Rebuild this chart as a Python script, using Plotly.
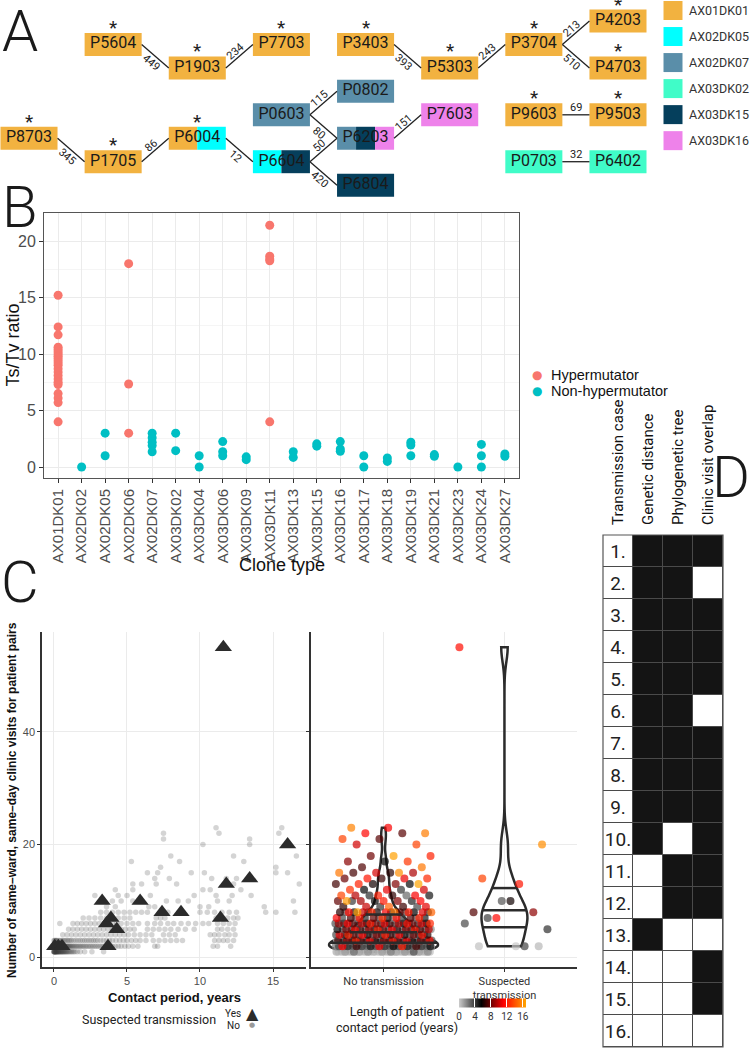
import numpy as np
import plotly.graph_objects as go

W, H = 751, 1050

# ---------------- A: transmission network ----------------
clone_names = ["AX01DK01", "AX02DK05", "AX02DK07", "AX03DK02", "AX03DK15", "AX03DK16"]
clone_colors = ["#F2B240", "#00FFFF", "#5A8EA9", "#40FCC8", "#053F5C", "#EE82EA"]

node_names = ["P5604", "P1903", "P7703", "P3403", "P5303", "P3704", "P4203", "P4703",
              "P8703", "P1705", "P6004", "P0603", "P6604", "P0802", "P6203", "P6804",
              "P7603", "P9603", "P9503", "P0703", "P6402"]
node_col = [1, 2, 3, 4, 5, 6, 7, 7, 0, 1, 2, 3, 3, 4, 4, 4, 5, 6, 7, 6, 7]
node_row = [1, 2, 1, 1, 2, 1, 0, 2, 5, 6, 5, 4, 6, 3, 5, 7, 4, 4, 4, 6, 6]
node_clones = [["AX01DK01"], ["AX01DK01"], ["AX01DK01"], ["AX01DK01"], ["AX01DK01"],
               ["AX01DK01"], ["AX01DK01"], ["AX01DK01"], ["AX01DK01"], ["AX01DK01"],
               ["AX01DK01", "AX02DK05"], ["AX02DK07"], ["AX02DK05", "AX03DK15"],
               ["AX02DK07"], ["AX02DK07", "AX03DK15", "AX03DK16"], ["AX03DK15"],
               ["AX03DK16"], ["AX01DK01"], ["AX01DK01"], ["AX03DK02"], ["AX03DK02"]]
node_star = [1, 1, 1, 1, 1, 1, 1, 1, 1, 1, 1, 0, 0, 0, 0, 0, 0, 1, 1, 0, 0]

edge_src = ["P5604", "P1903", "P3403", "P5303", "P3704", "P3704", "P8703", "P1705",
            "P6004", "P0603", "P0603", "P6604", "P6604", "P6203", "P9603", "P0703"]
edge_dst = ["P1903", "P7703", "P5303", "P3704", "P4203", "P4703", "P1705", "P6004",
            "P6604", "P0802", "P6203", "P6203", "P6804", "P7603", "P9503", "P6402"]
edge_snp = [449, 234, 393, 243, 213, 510, 345, 86, 12, 115, 80, 50, 420, 151, 69, 32]

# ---------------- B: Ts/Tv ratio per clone type ----------------
clone_types = ["AX01DK01", "AX02DK02", "AX02DK05", "AX02DK06", "AX02DK07", "AX03DK02",
               "AX03DK04", "AX03DK06", "AX03DK09", "AX03DK11", "AX03DK13", "AX03DK15",
               "AX03DK16", "AX03DK17", "AX03DK18", "AX03DK19", "AX03DK21", "AX03DK23",
               "AX03DK24", "AX03DK27"]
hyper_ratio = [
    [15.2, 12.4, 11.7, 10.6, 10.4, 10.2, 10.0, 9.8, 9.6, 9.4, 9.2, 9.0, 8.7, 8.4, 8.1,
     7.8, 7.5, 7.3, 6.5, 6.1, 5.7, 4.0],
    [], [], [18.0, 7.35, 3.0], [], [], [], [], [], [21.4, 18.65, 18.4, 18.25, 4.0],
    [], [], [], [], [], [], [], [], [], []]
nonhyper_ratio = [
    [], [0.0], [3.0, 1.0], [], [3.0, 2.6, 2.2, 1.9, 1.35], [3.0, 1.45], [1.0, 0.0],
    [2.25, 1.35, 1.0], [0.9, 0.65], [], [1.35, 0.85], [2.05, 1.85], [2.25, 1.6, 1.4],
    [1.0, 0.0], [0.8, 0.5], [2.2, 1.95, 1.0], [1.1, 0.95], [0.0], [2.0, 1.0, 0.0],
    [1.15, 0.95]]
group_names = ["Hypermutator", "Non-hypermutator"]
group_colors = ["#F8766D", "#00BFC4"]

# ---------------- C: contact period vs same-day visits ----------------
nt_visit_levels = [1, 2, 3, 4, 5, 6, 7, 8, 9, 10, 11, 12, 13, 14, 15, 16, 17, 18, 20, 21, 22, 23]
nt_periods = [
    [0.00, 0.00, 0.01, 0.02, 0.03, 0.05, 0.06, 0.08, 0.10, 0.12, 0.14, 0.16, 0.18, 0.20,
     0.22, 0.25, 0.28, 0.30, 0.33, 0.36, 0.40, 0.43, 0.47, 0.50, 0.54, 0.58, 0.62, 0.66,
     0.70, 0.75, 0.80, 0.85, 0.90, 0.96, 1.02, 1.10, 1.18, 1.26, 1.35, 1.45, 1.60, 1.80,
     2.10, 2.60, 3.40],
    [0.00, 0.01, 0.02, 0.04, 0.06, 0.08, 0.10, 0.12, 0.15, 0.18, 0.20, 0.23, 0.26, 0.30,
     0.33, 0.36, 0.40, 0.44, 0.48, 0.52, 0.56, 0.60, 0.65, 0.70, 0.75, 0.80, 0.85, 0.90,
     0.95, 1.00, 1.06, 1.12, 1.18, 1.25, 1.32, 1.40, 1.48, 1.56, 1.65, 1.74, 1.83, 1.92,
     2.02, 2.12, 2.22, 2.33, 2.44, 2.55, 2.66, 2.78, 2.90, 3.02, 3.15, 3.28, 3.41, 3.55,
     3.70, 3.85, 4.00, 4.20, 4.40, 4.60, 4.85, 5.10, 5.40, 5.75, 6.90, 7.10, 10.90,
     11.20, 12.10],
    [0.00, 0.05, 0.10, 0.15, 0.20, 0.30, 0.40, 0.50, 0.60, 0.70, 0.80, 0.90, 1.00, 1.10,
     1.20, 1.35, 1.50, 1.65, 1.80, 1.95, 2.10, 2.25, 2.40, 2.55, 2.70, 2.85, 3.00, 3.20,
     3.40, 3.60, 3.80, 4.00, 4.25, 4.50, 4.75, 5.00, 5.30, 5.60, 5.90, 6.30, 6.80, 7.20,
     7.60, 8.00, 8.40, 8.80, 11.00, 11.30, 11.60, 11.90, 12.30],
    [0.6, 0.9, 1.2, 1.5, 1.8, 2.1, 2.4, 2.7, 3.0, 3.3, 3.6, 3.9, 4.2, 4.5, 4.8, 5.1, 5.5,
     5.9, 6.3, 6.7, 7.5, 7.9, 8.3, 10.7, 11.0, 11.3, 11.7, 12.0, 12.4],
    [1.0, 1.3, 1.6, 1.9, 2.2, 2.5, 2.8, 3.1, 3.4, 3.7, 4.0, 4.3, 4.6, 4.9, 5.2, 5.5, 6.4,
     6.8, 7.2, 7.6, 8.0, 8.5, 9.0, 9.6, 11.2, 11.5, 11.9, 12.3],
    [0.4, 1.3, 1.6, 1.9, 2.2, 2.5, 2.8, 3.1, 3.4, 3.7, 4.0, 4.3, 4.6, 5.0, 5.4, 5.8, 6.4,
     6.9, 7.3, 7.8, 8.2, 8.7, 9.2, 9.7, 10.2, 10.6, 11.2, 11.6, 12.0, 12.4],
    [2.0, 2.4, 2.8, 3.2, 3.6, 4.0, 4.4, 4.8, 5.2, 7.0, 7.3, 7.6, 11.1, 11.5, 11.9, 12.3, 12.6],
    [3.2, 3.6, 4.0, 4.4, 4.8, 5.2, 5.6, 6.0, 6.4, 7.8, 10.0, 10.5, 11.0, 11.5, 12.0, 12.5,
     14.5, 15.2, 16.5],
    [3.6, 4.2, 6.5, 6.9, 10.0, 10.6, 14.4],
    [4.0, 4.6, 5.4, 7.7, 8.5, 9.2, 11.2, 12.0, 16.4],
    [2.8, 4.4, 5.0, 6.6, 9.6, 11.1, 12.2, 13.5],
    [4.2, 5.4, 10.2, 10.7, 12.8],
    [5.4, 6.0, 7.0, 8.4, 12.3, 16.8],
    [6.9, 7.9, 10.8, 11.8, 12.5],
    [6.4, 7.1, 9.4, 10.3, 15.2, 16.0],
    [7.3, 15.2],
    [5.3, 8.6, 13.0],
    [8.0, 12.3, 16.6],
    [10.2, 13.4],
    [7.5, 13.4],
    [7.5, 11.3, 15.4],
    [11.1, 15.6]]

tx_period = [0.05, 0.3, 0.55, 3.3, 3.6, 3.7, 3.9, 4.3, 5.9, 7.4, 8.7, 11.4, 11.6, 11.8, 13.4, 16.0]
tx_visits = [2, 2, 2, 10, 6, 2, 7, 5, 10, 8, 8, 7, 55, 13, 14, 20]

# ---------------- D: evidence per transmission case ----------------
d_headers = ["Transmission case", "Genetic distance", "Phylogenetic tree", "Clinic visit overlap"]
d_cases = list(range(1, 17))
d_genetic = [1, 1, 1, 1, 1, 1, 1, 1, 1, 1, 0, 0, 1, 0, 0, 0]
d_phylo = [1, 1, 1, 1, 1, 1, 1, 1, 1, 0, 1, 1, 0, 0, 0, 0]
d_clinic = [1, 0, 1, 1, 1, 0, 1, 1, 1, 1, 1, 1, 0, 1, 1, 0]


def dom_x(a, b):
    return [a / W, b / W]


def dom_y(top, bottom):
    return [1 - bottom / H, 1 - top / H]


def kde(vals, grid, bw):
    v = np.asarray(vals, float)
    u = (np.asarray(grid)[:, None] - v[None, :]) / bw
    return np.exp(-0.5 * u * u).sum(axis=1) / (len(v) * bw * np.sqrt(2 * np.pi))


def bw_nrd0(vals):
    v = np.asarray(vals, float)
    q1, q3 = np.percentile(v, [25, 75])
    return 0.9 * min(v.std(ddof=1), (q3 - q1) / 1.34) * len(v) ** -0.2


def spread(n, width):
    # evenly scattered horizontal offsets (stand-in for ggplot's jitter)
    g = 0.6180339887
    return [(((i + 1) * g) % 1 - 0.5) * width for i in range(n)]


fig = go.Figure()
ann = []
shapes = []
ARIAL = "Liberation Sans"
ROBOTO = "Roboto"

# ================= Panel A =================
color_of = dict(zip(clone_names, clone_colors))
pos = {n: (c, r) for n, c, r in zip(node_names, node_col, node_row)}
HW, HH = 0.339, 0.49
for n, c, r, cl in zip(node_names, node_col, node_row, node_clones):
    k = len(cl)
    for i, cname in enumerate(cl):
        shapes.append(dict(type="rect", xref="x", yref="y",
                           x0=c - HW + 2 * HW * i / k, x1=c - HW + 2 * HW * (i + 1) / k,
                           y0=r - HH, y1=r + HH, fillcolor=color_of[cname],
                           line=dict(width=0), layer="below"))

ex, ey = [], []
for s, d, v in zip(edge_src, edge_dst, edge_snp):
    (c1, r1), (c2, r2) = pos[s], pos[d]
    ex += [c1 + HW, c2 - HW, None]
    ey += [r1, r2, None]
    mx, my = (c1 + c2) / 2, (r1 + r2) / 2
    if r2 > r1:
        ang, xs, ys = 41, -4, -6.5
    elif r2 < r1:
        ang, xs, ys = -41, -4, 4.5
    else:
        ang, xs, ys = 0, 0, 7
    ann.append(dict(x=mx, y=my, xref="x", yref="y", text=str(v),
                    textangle=ang, xshift=xs, yshift=ys,
                    font=dict(family=ROBOTO, size=11, color="#222")))
fig.add_trace(go.Scatter(x=ex, y=ey, mode="lines", line=dict(color="#222", width=1.3),
                         xaxis="x", yaxis="y", hoverinfo="skip", showlegend=False))
fig.add_trace(go.Scatter(x=node_col, y=node_row, mode="text", text=node_names,
                         textfont=dict(family=ROBOTO, size=16, color="#1a1a1a"),
                         xaxis="x", yaxis="y", hoverinfo="skip", showlegend=False))
for c, r, s in zip(node_col, node_row, node_star):
    if s:
        ann.append(dict(x=c, y=r - HH, xref="x", yref="y", text="*",
                        yanchor="bottom", yshift=-8,
                        font=dict(family=ROBOTO, size=19, color="#222")))

# clone colour key
leg_y = [-0.448 + 1.11 * i for i in range(len(clone_names))]
fig.add_trace(go.Scatter(x=[7.654] * len(clone_names), y=leg_y, mode="markers",
                         marker=dict(symbol="square", size=19, color=clone_colors),
                         xaxis="x", yaxis="y", hoverinfo="skip", showlegend=False,
                         cliponaxis=False))
for name, ly in zip(clone_names, leg_y):
    ann.append(dict(x=687 / W, y=ly, xref="paper", yref="y", text=name, xanchor="left",
                    font=dict(family=ROBOTO, size=12.5, color="#333")))

# ================= Panel B =================
for gname, gcol, gvals in zip(group_names, group_colors, [hyper_ratio, nonhyper_ratio]):
    gx, gy = [], []
    for i, vals in enumerate(gvals):
        gx += [i] * len(vals)
        gy += vals
    fig.add_trace(go.Scatter(x=gx, y=gy, mode="markers", name=gname, showlegend=False,
                             marker=dict(color=gcol, size=9), xaxis="x2", yaxis="y2"))
for k, (gname, gcol) in enumerate(zip(group_names, group_colors)):
    ly = 1 - (375 + 16 * k) / H
    ann.append(dict(x=537 / W, y=ly, text="\u25CF",
                    font=dict(family="DejaVu Sans", size=12, color=gcol)))
    ann.append(dict(x=549 / W, y=ly, text=gname, xanchor="left",
                    font=dict(family=ARIAL, size=14.5, color="#111")))

# ================= Panel C =================
nt_p, nt_v = [], []
for lvl, ps in zip(nt_visit_levels, nt_periods):
    nt_p += ps
    nt_v += [lvl] * len(ps)

fig.add_trace(go.Scatter(x=nt_p, y=nt_v, mode="markers",
                         marker=dict(color="rgba(60,60,60,0.22)", size=5.5),
                         xaxis="x3", yaxis="y3", showlegend=False, hoverinfo="skip"))
fig.add_trace(go.Scatter(x=tx_period, y=tx_visits, mode="markers",
                         marker=dict(symbol="triangle-up", color="#2b2b2b", size=15),
                         xaxis="x3", yaxis="y3", showlegend=False, hoverinfo="skip"))

jit_nt = spread(len(nt_v), 0.8)
jit_tx = spread(len(tx_visits), 0.8)
fig.add_trace(go.Scatter(x=[1 + j for j in jit_nt], y=nt_v, mode="markers",
                         marker=dict(color=nt_p, coloraxis="coloraxis", size=8, opacity=0.7),
                         xaxis="x4", yaxis="y4", showlegend=False, hoverinfo="skip"))
fig.add_trace(go.Scatter(x=[2 + j for j in jit_tx], y=tx_visits, mode="markers",
                         marker=dict(color=tx_period, coloraxis="coloraxis", size=8, opacity=0.7),
                         xaxis="x4", yaxis="y4", showlegend=False, hoverinfo="skip"))

vio_widths = [0.9, 0.38]
for xpos, vals, wv in [(1, nt_v, vio_widths[0]), (2, tx_visits, vio_widths[1])]:
    bw = bw_nrd0(vals)
    fig.add_trace(go.Violin(x0=xpos, y=vals, width=wv, scalemode="width", spanmode="hard",
                            bandwidth=bw, points=False, fillcolor="rgba(0,0,0,0)",
                            line=dict(color="#2b2b2b", width=2.5), xaxis="x4", yaxis="y4",
                            showlegend=False, hoverinfo="skip", box=dict(visible=False),
                            meanline=dict(visible=False)))
    grid = np.linspace(min(vals), max(vals), 512)
    dens = kde(vals, grid, bw)
    cdf = np.cumsum(dens) / dens.sum()
    qs = np.interp([0.25, 0.5, 0.75], cdf, grid)
    qx, qy = [], []
    for q in qs:
        hw = wv / 2 * np.interp(q, grid, dens) / dens.max()
        qx += [xpos - hw, xpos + hw, None]
        qy += [q, q, None]
    fig.add_trace(go.Scatter(x=qx, y=qy, mode="lines", line=dict(color="#2b2b2b", width=2.5),
                             xaxis="x4", yaxis="y4", showlegend=False, hoverinfo="skip"))

# ================= Panel D =================
z = [[0, g, p, c] for g, p, c in zip(d_genetic, d_phylo, d_clinic)]
txt = [[f"{n}.", "", "", ""] for n in d_cases]
shapes.append(dict(type="rect", xref="x5 domain", yref="y5 domain", x0=0, x1=1, y0=0, y1=1,
                   fillcolor="#4a4a4a", line=dict(width=0), layer="below"))
fig.add_trace(go.Heatmap(z=z, x=[0, 1, 2, 3], y=list(range(len(d_cases))), text=txt,
                         texttemplate="%{text}",
                         textfont=dict(family=ROBOTO, size=19, color="#222"),
                         colorscale=[[0, "#ffffff"], [1, "#141414"]], zmin=0, zmax=1,
                         showscale=False, xgap=1, ygap=1, xaxis="x5", yaxis="y5",
                         hoverinfo="skip"))
shapes.append(dict(type="rect", xref="x5 domain", yref="y5 domain", x0=0, x1=1, y0=0, y1=1,
                   line=dict(color="#555", width=1.2), layer="above"))

# ================= Text =================
for letter, lx, ly in [("A", 20, 31), ("B", 20, 207), ("C", 20, 582), ("D", 731, 477)]:
    ann.append(dict(x=lx / W, y=1 - ly / H, text=letter,
                    font=dict(family=ROBOTO, size=58, color="#1a1a1a", weight=300)))

ann += [
    dict(x=281.5 / W, y=1 - 565 / H, text="Clone type",
         font=dict(family=ARIAL, size=18, color="#111")),
    dict(x=12 / W, y=1 - 345.5 / H, text="Ts/Tv ratio", textangle=-90,
         font=dict(family=ARIAL, size=18, color="#111")),
    dict(x=174 / W, y=1 - 997 / H, text="<b>Contact period, years</b>",
         font=dict(family=ARIAL, size=13, color="#111")),
    dict(x=12 / W, y=1 - 800 / H,
         text="<b>Number of same\u2013ward, same\u2013day clinic visits for patient pairs</b>",
         textangle=-90, font=dict(family=ARIAL, size=12, color="#111")),
    dict(x=218 / W, y=1 - 1019 / H, text="Suspected transmission", xanchor="right",
         font=dict(family=ROBOTO, size=12.5, color="#222")),
    dict(x=233 / W, y=1 - 1013 / H, text="Yes", font=dict(family=ROBOTO, size=10, color="#222")),
    dict(x=233 / W, y=1 - 1025 / H, text="No", font=dict(family=ROBOTO, size=10, color="#222")),
    dict(x=252 / W, y=1 - 1013 / H, text="\u25B2", font=dict(family="DejaVu Sans", size=16, color="#2b2b2b")),
    dict(x=252 / W, y=1 - 1025 / H, text="\u25CF", font=dict(family="DejaVu Sans", size=7, color="#9a9a9a")),
    dict(x=397 / W, y=1 - 1019.5 / H, text="Length of patient<br>contact period (years)",
         align="center", font=dict(family=ROBOTO, size=12.5, color="#222")),
]
for a in ann:
    a.setdefault("xref", "paper")
    a.setdefault("yref", "paper")
    a.setdefault("showarrow", False)
    a.setdefault("xanchor", "center")
    a.setdefault("yanchor", "middle")

hidden = dict(visible=False, showgrid=False, zeroline=False, fixedrange=True)
axis_c = dict(showline=True, linecolor="#333", linewidth=1.5, ticks="outside", ticklen=3,
              tickcolor="#333", gridcolor="#ebebeb", zeroline=False,
              tickfont=dict(family=ARIAL, size=11, color="#4d4d4d"))

fig.update_layout(
    width=W, height=H, margin=dict(l=0, r=0, t=0, b=0),
    paper_bgcolor="white", plot_bgcolor="white", showlegend=False,
    shapes=shapes, annotations=ann,
    xaxis=dict(domain=[0, 1], range=[-0.3447, 8.581], **hidden),
    yaxis=dict(domain=dom_y(0, 205), range=[7.846, -0.8955], **hidden),
    xaxis2=dict(domain=dom_x(44, 519), anchor="y2", range=[-0.6, 19.6],
                tickvals=list(range(len(clone_types))), ticktext=clone_types, tickangle=-90,
                showgrid=True, gridcolor="#ebebeb", zeroline=False, showline=True, mirror=True,
                linecolor="#555", linewidth=1, ticks="outside", ticklen=4, tickcolor="#333",
                tickfont=dict(family=ARIAL, size=15, color="#4d4d4d")),
    yaxis2=dict(domain=dom_y(213, 478), anchor="x2", range=[-0.97, 22.48],
                tickvals=[0, 5, 10, 15, 20], showgrid=True, gridcolor="#ebebeb",
                minor=dict(dtick=2.5, tick0=0, showgrid=True, gridcolor="#f5f5f5"),
                zeroline=False, showline=True, mirror=True, linecolor="#555", linewidth=1,
                ticks="outside", ticklen=4, tickcolor="#333",
                tickfont=dict(family=ARIAL, size=16, color="#4d4d4d")),
    xaxis3=dict(domain=dom_x(42, 306), anchor="y3", range=[-0.82, 17.26],
                tickvals=[0, 5, 10, 15], **axis_c),
    yaxis3=dict(domain=dom_y(632, 967), anchor="x3", range=[-1.7, 57.7],
                tickvals=[0, 20, 40], **axis_c),
    xaxis4=dict(domain=dom_x(311, 577), anchor="y4", range=[0.4, 2.6], tickvals=[1, 2],
                ticktext=["No transmission", "Suspected<br>transmission"],
                **{**axis_c, "tickfont": dict(family=ROBOTO, size=11, color="#333")}),
    yaxis4=dict(domain=dom_y(632, 967), anchor="x4", range=[-1.7, 57.7],
                tickvals=[0, 20, 40], showticklabels=False, **axis_c),
    xaxis5=dict(domain=dom_x(603, 723), anchor="y5", range=[-0.5, 3.5], side="top",
                tickvals=[0, 1, 2, 3], ticktext=d_headers, tickangle=-90, ticks="outside",
                ticklen=6, tickcolor="rgba(0,0,0,0)", showgrid=False, zeroline=False,
                tickfont=dict(family=ROBOTO, size=15, color="#111")),
    yaxis5=dict(domain=dom_y(535, 1047), anchor="x5", range=[15.5, -0.5], **hidden),
    coloraxis=dict(colorscale=[[0, "#cccccc"], [0.333, "#000000"], [0.667, "#ff0000"],
                               [1, "#ffa500"]],
                   cmin=0, cmax=max(nt_p + tx_period),
                   colorbar=dict(orientation="h", x=492.5 / W, xanchor="center",
                                 y=1 - 1014.5 / H, yanchor="middle", len=67, lenmode="pixels",
                                 thickness=9, tickvals=[0, 4, 8, 12, 16], ticks="inside",
                                 ticklen=9, tickcolor="white", outlinewidth=0, xpad=0, ypad=0,
                                 tickfont=dict(family=ROBOTO, size=10, color="#333"))),
    violinmode="overlay",
)

# the page's default body margin would push the 751x1050 figure off-canvas
fig.write_html("out.html", config={"displayModeBar": False},
               post_script="document.body.style.margin='0';document.body.style.overflow='hidden';")
